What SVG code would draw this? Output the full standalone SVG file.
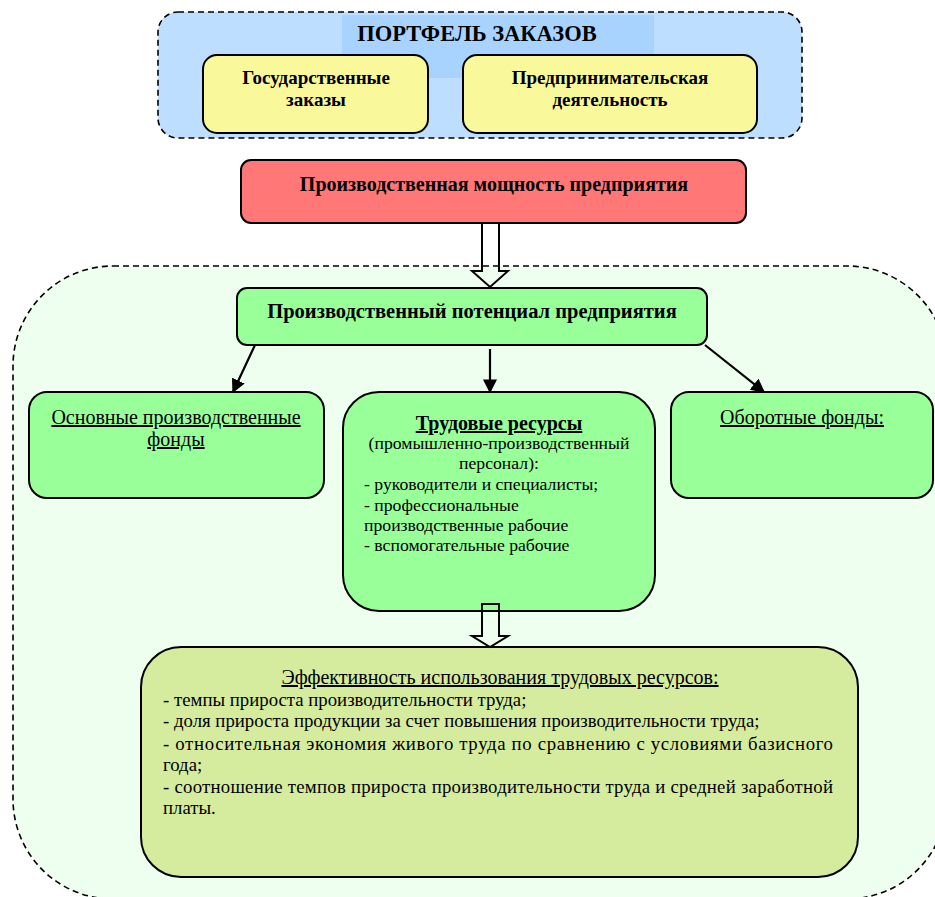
<svg xmlns="http://www.w3.org/2000/svg" width="935" height="897" viewBox="0 0 935 897">
<style>
.node{stroke:#000;stroke-width:2}
.dash{stroke:#000;stroke-width:1.6;stroke-dasharray:6 4}
text{font-family:"Liberation Serif","Times New Roman",Times,serif;fill:#000}
.b{font-weight:bold}
.u{text-decoration:underline}
.c{text-anchor:middle}
.ln{stroke:#000;stroke-width:2.2;fill:none}
.blk{stroke:#000;stroke-width:2;fill:none}
</style>
<defs>
<marker id="ahb" viewBox="0 0 10 10" refX="9" refY="5" markerWidth="14" markerHeight="14" orient="auto" markerUnits="userSpaceOnUse">
<path d="M0,0 L10,5 L0,10 Z" fill="#000"/>
</marker>
</defs>
<rect width="935" height="897" fill="#fff"/>
<g id="portfolio">
<rect class="dash" x="158" y="12" width="644" height="126" rx="20" fill="#BDDEFF"/>
<rect x="342" y="15" width="312" height="63" fill="#A9D3FF"/>
<text class="b c" x="477" y="41" font-size="22.5">ПОРТФЕЛЬ ЗАКАЗОВ</text>
</g>
<g id="gov">
<rect class="node" x="203" y="55" width="225" height="78" rx="14" fill="#F9F99B"/>
<text class="b c" x="316" y="84" font-size="19">Государственные</text>
<text class="b c" x="316" y="106" font-size="19">заказы</text>
</g>
<g id="business">
<rect class="node" x="463" y="55" width="294" height="78" rx="14" fill="#F9F99B"/>
<text class="b c" x="610" y="84" font-size="19">Предпринимательская</text>
<text class="b c" x="610" y="106" font-size="19">деятельность</text>
</g>
<g id="capacity">
<rect class="node" x="241" y="160" width="505" height="63" rx="10" fill="#FF7777"/>
<text class="b c" x="494" y="191" font-size="20">Производственная мощность предприятия</text>
</g>
<g id="container">
<rect class="dash" x="13" y="266" width="934" height="633" rx="100" fill="#EFFFEF"/>
</g>
<g id="potential">
<rect class="node" x="237" y="288" width="470" height="57" rx="10" fill="#99FF99"/>
<text class="b c" x="472" y="318" font-size="20.5">Производственный потенциал предприятия</text>
</g>
<g id="fixed">
<rect class="node" x="29" y="392" width="295" height="106" rx="18" fill="#99FF99"/>
<text class="u c" x="176" y="424" font-size="20">Основные производственные</text>
<text class="u c" x="176" y="446" font-size="20">фонды</text>
</g>
<g id="labor">
<rect class="node" x="343" y="392" width="312" height="219" rx="36" fill="#99FF99"/>
<text class="b u c" x="499" y="430" font-size="20">Трудовые ресурсы</text>
<text class="c" x="499" y="449" font-size="17.7">(промышленно-производственный</text>
<text class="c" x="499" y="469" font-size="17.7">персонал):</text>
<text x="364" y="490" font-size="17.7">- руководители и специалисты;</text>
<text x="364" y="511" font-size="17.7">- профессиональные</text>
<text x="364" y="531" font-size="17.7">производственные рабочие</text>
<text x="364" y="551" font-size="17.7">- вспомогательные рабочие</text>
</g>
<g id="working">
<rect class="node" x="671" y="392" width="262" height="106" rx="18" fill="#99FF99"/>
<text class="u c" x="802" y="424" font-size="20">Оборотные фонды:</text>
</g>
<g id="efficiency">
<rect class="node" x="141" y="647" width="717" height="230" rx="40" fill="#D5EC9F"/>
<text class="u c" x="500" y="684" font-size="20">Эффективность использования трудовых ресурсов:</text>
<text x="163" y="706" font-size="18.8">- темпы прироста производительности труда;</text>
<text x="163" y="727" font-size="18.8">- доля прироста продукции за счет повышения производительности труда;</text>
<text x="163" y="750" font-size="18.8" textLength="670" lengthAdjust="spacing">- относительная экономия живого труда по сравнению с условиями базисного</text>
<text x="163" y="771" font-size="18.8">года;</text>
<text x="163" y="793" font-size="18.8" textLength="670" lengthAdjust="spacing">- соотношение темпов прироста производительности труда и средней заработной</text>
<text x="163" y="814" font-size="18.8">платы.</text>
</g>
<g id="connectors">
<path class="blk" d="M482,223 L482,271 L472,271 L490,287 L508,271 L499,271 L499,223"/>
<line class="ln" x1="255" y1="345" x2="233" y2="392" marker-end="url(#ahb)"/>
<line class="ln" x1="490" y1="349" x2="490" y2="392" marker-end="url(#ahb)"/>
<line class="ln" x1="705" y1="345" x2="764" y2="392" marker-end="url(#ahb)"/>
<path class="blk" d="M482,636 L482,604 L499,604 L499,636 L508,636 L490,647 L472,636 Z"/>
</g>
</svg>
